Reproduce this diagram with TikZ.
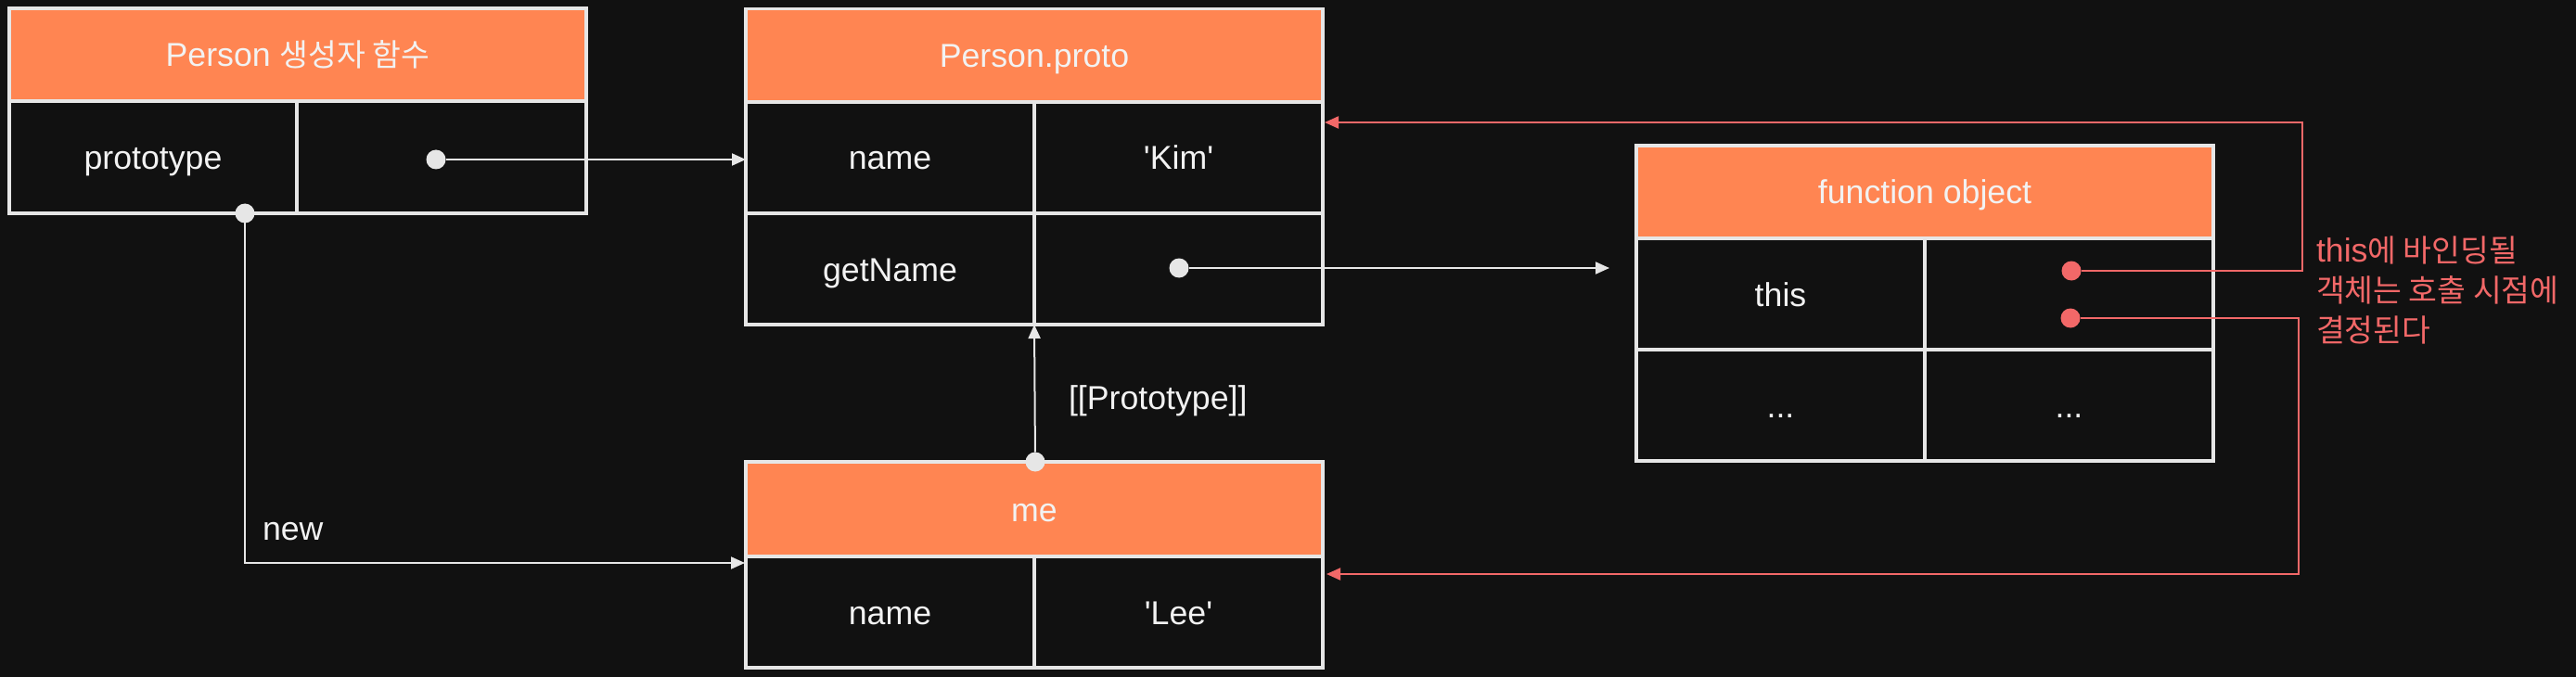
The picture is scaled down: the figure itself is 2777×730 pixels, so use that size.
\documentclass[tikz,border=0pt]{standalone}
\usepackage{fontspec}
\newfontfamily\lat{Liberation Sans}
\newfontfamily\kr{Noto Sans CJK KR}
\usetikzlibrary{arrows.meta}
\definecolor{bgc}{HTML}{111111}
\definecolor{orng}{HTML}{FF8552}
\definecolor{edge}{HTML}{E6E6E6}
\definecolor{txt}{HTML}{F2F2F2}
\definecolor{rd}{HTML}{F26868}
\newcommand\K[1]{{\kr\fontsize{33.5}{43}\selectfont #1}}
\begin{document}
\begin{tikzpicture}[x=1pt,y=-1pt,
  every node/.style={inner sep=0pt,outer sep=0pt},
  base/.style={draw=edge,line width=3.5pt,text=txt,font=\lat\fontsize{35.7}{43}\selectfont,text height=26pt,text depth=0pt},
  hdr/.style={base,fill=orng,minimum width=622pt,minimum height=100pt},
  cell/.style={base,fill=bgc,minimum width=311pt,minimum height=120pt},
  wdot/.style={circle,fill=edge,minimum size=21pt},
  rdot/.style={circle,fill=rd,minimum size=21pt},
  warr/.style={draw=edge,line width=2pt,-{Triangle[length=15pt,width=13pt]}},
  rarr/.style={draw=rd,line width=2pt,-{Triangle[length=15pt,width=13pt]}},
  lbl/.style={text=txt,font=\lat\fontsize{35.7}{43}\selectfont}
]
\fill[bgc] (0,0) rectangle (2777,730);
\useasboundingbox (0,0) rectangle (2777,730);

% Person constructor
\node[hdr] (ph) at (321,59) {Person \K{생성자 함수}};
\node[cell,minimum width=310pt,minimum height=121pt] (pk) at (165,169.5) {prototype};
\node[cell,minimum width=312pt,minimum height=121pt] (pv) at (476,169.5) {};

% Person.proto
\node[hdr] (oh) at (1115,59.5) {Person.proto};
\node[cell] (on) at (959.5,170) {name};
\node[cell] (onv) at (1270.5,170) {'Kim'};
\node[cell] (og) at (959.5,290) {getName};
\node[cell] (ogv) at (1270.5,290) {};

% function object
\node[hdr] (fh) at (2075,207) {function object};
\node[cell] (ft) at (1919.5,317) {this};
\node[cell] (ftv) at (2230.5,317) {};
\node[cell] (fd) at (1919.5,437) {...};
\node[cell] (fdv) at (2230.5,437) {...};

% me
\node[hdr,minimum height=102pt] (mh) at (1115,549) {me};
\node[cell] (mn) at (959.5,660) {name};
\node[cell] (mv) at (1270.5,660) {'Lee'};

% dots
\node[wdot] (d1) at (470,172) {};
\node[wdot] (d2) at (264,230) {};
\node[wdot] (d3) at (1116,498) {};
\node[wdot] (d4) at (1271,289) {};
\node[rdot] (r1) at (2233,292) {};
\node[rdot] (r2) at (2232,343) {};

% connector ends
\coordinate (newend) at (803,607);
\coordinate (fnin) at (1735,289);
\coordinate (prin) at (1428,132);
\coordinate (mein) at (1430,619);

% connectors
\draw[warr] (d1) -- (d1 -| on.west);
\draw[warr] (d2) |- (newend);
\draw[warr] (d3) -- (og.south east);
\draw[warr] (d4) -- (fnin);
\draw[rarr] (r1) -- ++(249,0) |- (prin);
\draw[rarr] (r2) -- ++(246,0) |- (mein);

% labels
\node[lbl,anchor=west] (newlbl) at (283,573) {new};
\node[lbl,anchor=west] (protolbl) at (1152,432) {[[Prototype]]};
\node[text=rd,align=left,anchor=west,font=\lat\fontsize{35.7}{43}\selectfont] (note) at (2497,313)
  {this\K{에 바인딩될}\\\K{객체는 호출 시점에}\\\K{결정된다}};
\end{tikzpicture}
\end{document}
